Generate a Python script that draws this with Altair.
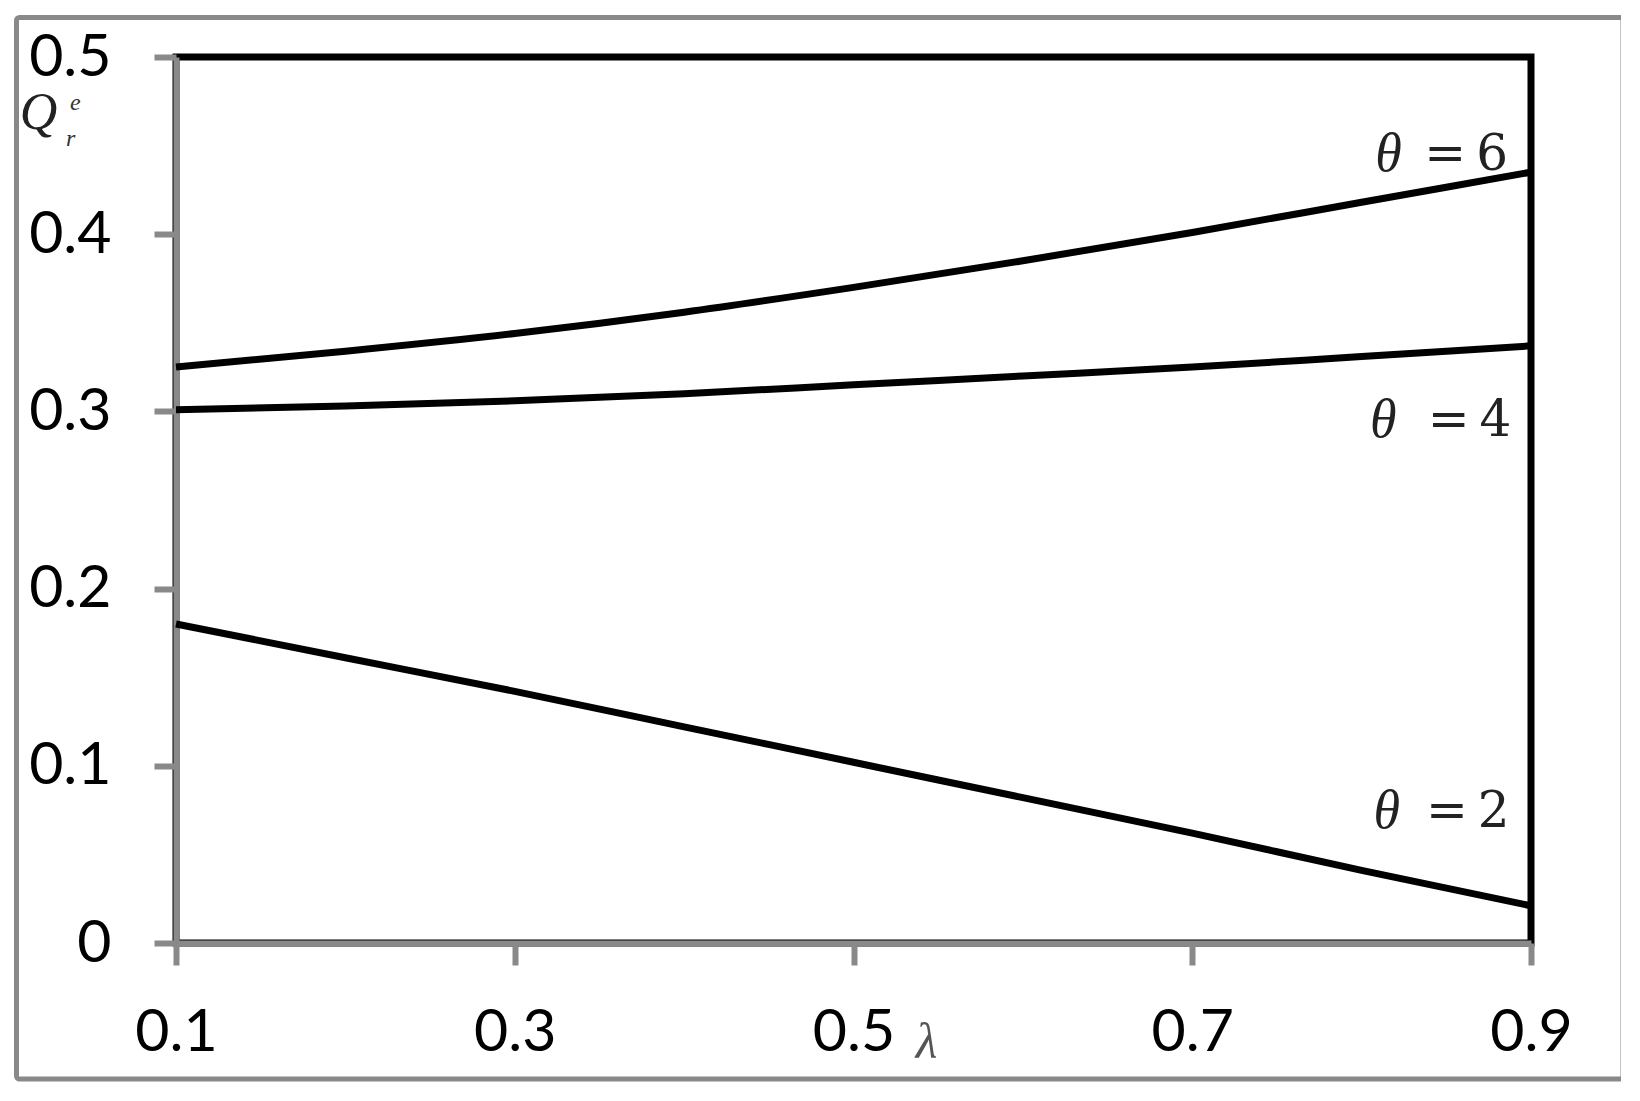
import altair as alt
import pandas as pd

# ---- data ----
lam = [0.1, 0.2, 0.3, 0.4, 0.5, 0.6, 0.7, 0.8, 0.9]
q_theta6 = [0.325, 0.334, 0.344, 0.356, 0.370, 0.385, 0.401, 0.418, 0.435]
q_theta4 = [0.301, 0.303, 0.306, 0.310, 0.315, 0.320, 0.325, 0.331, 0.337]
q_theta2 = [0.180, 0.161, 0.142, 0.122, 0.102, 0.082, 0.062, 0.041, 0.021]

theta_names = ["6", "4", "2"]
label_y = [0.4446, 0.2944, 0.0740]
label_theta_x = [0.808, 0.805, 0.807]
label_eq_x = [0.837, 0.839, 0.838]

x_ticks = [0.1, 0.3, 0.5, 0.7, 0.9]
y_ticks = [0, 0.1, 0.2, 0.3, 0.4, 0.5]

W, H = 1355, 886
GRAY = "#898989"

rows = []
for name, series in zip(theta_names, [q_theta6, q_theta4, q_theta2]):
    for l, q in zip(lam, series):
        rows.append({"lam": l, "q": q, "theta": name})
df = pd.DataFrame(rows)

lab = pd.DataFrame({
    "theta": theta_names,
    "y": label_y,
    "xt": label_theta_x,
    "xe": label_eq_x,
    "eq": ["=\u2009" + t for t in theta_names],
})
one = pd.DataFrame({"k": [0]})

xscale = alt.Scale(domain=[0.1, 0.9], nice=False, zero=False)
yscale = alt.Scale(domain=[0, 0.5], nice=False, zero=False)

xaxis = alt.Axis(values=x_ticks, format=".1f", title="λ", labelPadding=38,
                 labelFlush=False,
                 titleFont="Liberation Serif", titleFontStyle="italic",
                 titleFontWeight="normal", titleFontSize=50, titleColor="#555",
                 titleX=750, titleY=99, titleBaseline="middle",
                 titleAlign="center")
yaxis = alt.Axis(values=y_ticks, format=".1~f", title="Q", labelPadding=43,
                 labelFlush=False,
                 titleFont="Liberation Serif", titleFontStyle="italic",
                 titleFontWeight="normal", titleFontSize=52, titleColor="#222",
                 titleAngle=0, titleX=-138, titleY=55, titleBaseline="middle",
                 titleAlign="center")

lines = alt.Chart(df).mark_line(color="black", strokeWidth=7, interpolate="monotone").encode(
    x=alt.X("lam:Q", scale=xscale, axis=xaxis),
    y=alt.Y("q:Q", scale=yscale, axis=yaxis),
    detail="theta:N",
)

theta_txt = alt.Chart(lab).mark_text(
    text="θ", font="Liberation Serif", fontStyle="italic", fontSize=54,
    align="left", baseline="middle", color="#222"
).encode(x=alt.X("xt:Q", scale=xscale), y=alt.Y("y:Q", scale=yscale))

eq_txt = alt.Chart(lab).mark_text(
    font="DejaVu Serif", fontSize=50, align="left", baseline="middle", color="#222"
).encode(x=alt.X("xe:Q", scale=xscale), y=alt.Y("y:Q", scale=yscale), text="eq:N")

sup = alt.Chart(one).mark_text(
    text="e", font="Liberation Serif", fontStyle="italic", fontSize=24,
    align="left", baseline="middle", color="#333"
).encode(x=alt.value(-106), y=alt.value(46))
sub = alt.Chart(one).mark_text(
    text="r", font="Liberation Serif", fontStyle="italic", fontSize=24,
    align="left", baseline="middle", color="#333"
).encode(x=alt.value(-110), y=alt.value(82))

frame = alt.Chart(one).mark_rect(
    fill=None, stroke=GRAY, strokeWidth=5, cornerRadius=3
).encode(x=alt.value(-159.5), x2=alt.value(1447), y=alt.value(-39.5), y2=alt.value(1022))

chart = alt.layer(frame, lines, theta_txt, eq_txt, sup, sub).properties(
    width=W, height=H,
    autosize=alt.AutoSizeParams(type="none"),
    padding={"left": 168, "top": 49, "right": 90, "bottom": 140},
    background="white",
).configure_view(
    stroke="black", strokeWidth=7
).configure_axis(
    domainColor=GRAY, domainWidth=6, tickColor=GRAY, tickWidth=6, tickSize=22,
    grid=False, labelFont="Lato", labelFontSize=59, labelColor="black",
)

chart.save("out.html", embed_options={"renderer": "svg", "actions": False})
